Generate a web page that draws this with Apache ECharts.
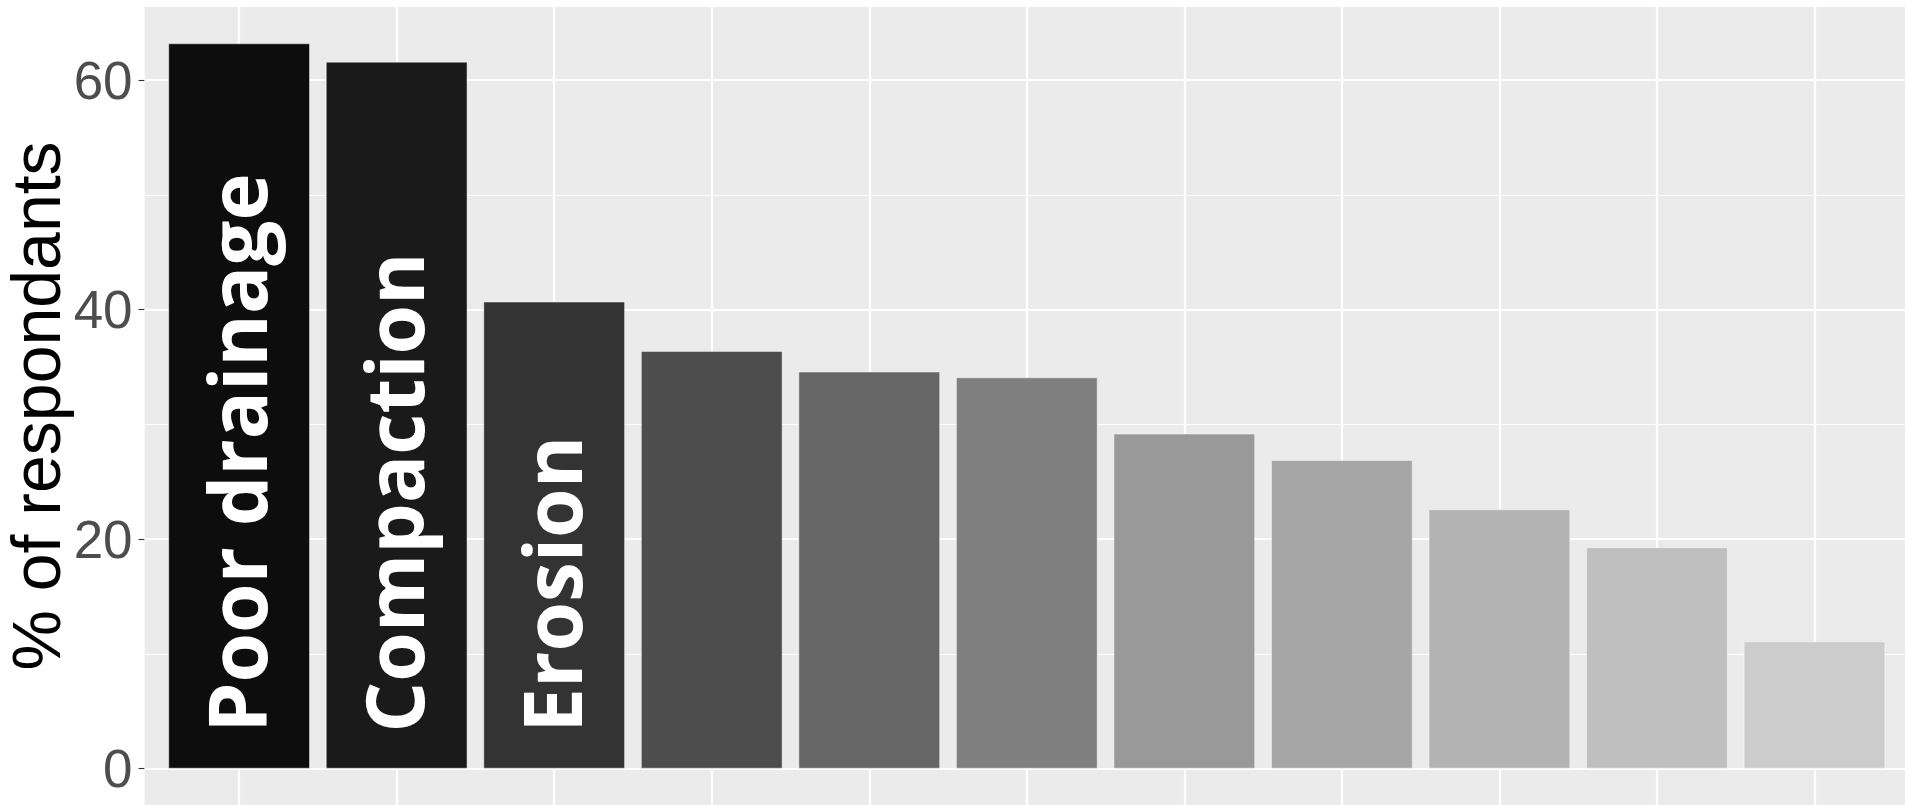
<!DOCTYPE html>
<html>
<head>
<meta charset="utf-8">
<script src="https://cdn.jsdelivr.net/npm/echarts@6/dist/echarts.min.js"></script>
<style>
  html, body { margin: 0; padding: 0; background: #ffffff; }
  #chart { width: 1905px; height: 805px; }
</style>
</head>
<body>
<div id="chart"></div>
<script>
// ---- data ----
const categories = ['Poor drainage', 'Compaction', 'Erosion', '', '', '', '', '', '', '', ''];
const values = [63.2, 61.6, 40.7, 36.4, 34.6, 34.1, 29.2, 26.9, 22.6, 19.3, 11.1];
const barColors = ['#0D0D0D', '#1A1A1A', '#333333', '#4D4D4D', '#666666', '#7F7F7F',
                   '#999999', '#A6A6A6', '#B3B3B3', '#BFBFBF', '#CCCCCC'];
const yTicks = [0, 20, 40, 60];
const yMinorTicks = [10, 30, 50];
const yAxisTitle = '% of respondants';

// ---- build ----
const vmax = Math.max.apply(null, values);
const yMax = vmax * 1.05;
const yMin = -vmax * 0.05;
const n = categories.length;
const positions = categories.map((c, i) => i + 1);

const gridLines = []
  .concat(yTicks.map(v => ({ yAxis: v, lineStyle: { width: 2.2 } })))
  .concat(yMinorTicks.map(v => ({ yAxis: v, lineStyle: { width: 1.1 } })))
  .concat(positions.map(p => ({ xAxis: p, lineStyle: { width: 2.2 } })));

const chart = echarts.init(document.getElementById('chart'), null, { renderer: 'canvas' });
chart.setOption({
  animation: false,
  backgroundColor: '#ffffff',
  grid: {
    left: 144.6, top: 7, width: 1764.4, bottom: 0,
    show: true, backgroundColor: '#EBEBEB', borderWidth: 0,
    containLabel: false, outerBoundsMode: 'none'
  },
  xAxis: {
    type: 'value', min: 0.4, max: n + 0.6,
    axisLine: { show: false }, axisTick: { show: false },
    axisLabel: { show: false }, splitLine: { show: false }
  },
  yAxis: {
    type: 'value', min: yMin, max: yMax,
    name: yAxisTitle, nameLocation: 'middle', nameGap: 69, nameRotate: 90, nameMoveOverlap: false,
    nameTextStyle: { fontFamily: '"Liberation Sans", Arial, sans-serif', fontSize: 68, color: '#000000' },
    axisLine: { show: false },
    axisTick: { show: true, customValues: yTicks, length: 6, lineStyle: { color: '#333333', width: 1.1 } },
    axisLabel: { show: true, customValues: yTicks, margin: 12, verticalAlign: 'top', lineHeight: 8,
      fontFamily: '"Liberation Sans", Arial, sans-serif', fontSize: 53, color: '#4D4D4D' },
    splitLine: { show: false }, minorSplitLine: { show: false }
  },
  series: [
    {
      type: 'line', data: [], z: 1, silent: true,
      markLine: {
        z: 1, silent: true, symbol: ['none', 'none'], animation: false,
        label: { show: false },
        lineStyle: { color: '#ffffff', type: 'solid', width: 2 },
        emphasis: { disabled: true },
        data: gridLines
      }
    },
    {
      type: 'bar', z: 3, barWidth: '90%',
      data: values.map((v, i) => ({
        value: [positions[i], v],
        itemStyle: { color: barColors[i], borderColor: 'rgba(255,255,255,0.45)', borderWidth: 1 }
      })),
      label: {
        show: true, position: 'insideBottom', rotate: 90, align: 'left', verticalAlign: 'middle',
        distance: 36, offset: [0, 5], color: '#ffffff', fontFamily: '"Open Sans", sans-serif',
        fontWeight: 700, fontSize: 80,
        formatter: p => categories[p.dataIndex]
      }
    }
  ]
});
</script>
</body>
</html>
